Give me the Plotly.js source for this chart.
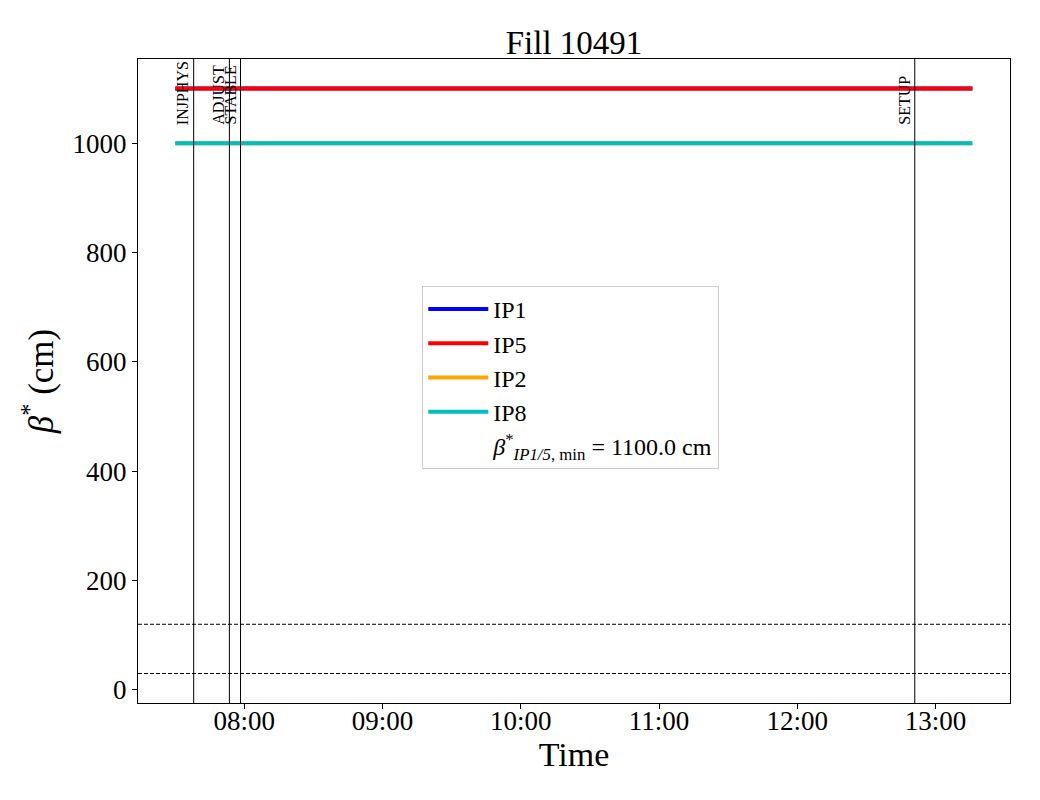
<!DOCTYPE html>
<html>
<head>
<meta charset="utf-8">
<script src="https://cdn.plot.ly/plotly-3.0.1.min.js"></script>
<style>html,body{margin:0;padding:0;background:#fff;}#chart{width:1040px;height:800px;}</style>
</head>
<body>
<div id="chart"></div>
<script>
// ---- data ----
const day = '2025-04-28 ';
const seriesNames = ['IP1', 'IP5', 'IP2', 'IP8'];
const seriesTimes = ['07:30:00', '13:16:00'];
const betaIP1 = [1100, 1100];
const betaIP5 = [1100, 1100];
const betaIP2 = [1000, 1000];
const betaIP8 = [1000, 1000];
const modeNames = ['INJPHYS', 'ADJUST', 'STABLE', 'SETUP'];
const modeTimes = ['07:38:00', '07:53:30', '07:58:20', '12:51:00'];
const refLevels = [30, 120];
const betaMin = 1100.0;
const xRange = ['07:13:50', '13:32:20'];
const yTicks = [0, 200, 400, 600, 800, 1000];

// ---- styles ----
const seriesColors = ['#0000ff', '#ff0000', '#ffa500', '#00bfbf'];
const serif = 'Liberation Serif, Times New Roman, serif';

const seriesValues = [betaIP1, betaIP5, betaIP2, betaIP8];
const traces = seriesNames.map((n, i) => ({
  type: 'scatter', mode: 'lines', name: n,
  x: seriesTimes.map(t => day + t), y: seriesValues[i],
  line: {color: seriesColors[i], width: 4},
  legendgroup: 'g' + i
}));
traces.push({
  type: 'scatter', mode: 'lines', x: [null], y: [null],
  name: '<i>β</i><sup>*</sup><sub><i>IP1/5</i>, min</sub> = ' + betaMin.toFixed(1) + ' cm',
  line: {color: 'rgba(0,0,0,0)', width: 0}, legendgroup: 'g4', showlegend: true
});

const shapes = [];
modeTimes.forEach(t => shapes.push({
  type: 'line', xref: 'x', yref: 'paper', x0: day + t, x1: day + t, y0: 0, y1: 1,
  line: {color: 'black', width: 1}
}));
refLevels.forEach(v => shapes.push({
  type: 'line', xref: 'paper', yref: 'y', x0: 0, x1: 1, y0: v, y1: v,
  line: {color: 'black', width: 1, dash: '4px,2px'}
}));

const annotations = modeNames.map((n, i) => ({
  xref: 'x', yref: 'paper', x: day + modeTimes[i], y: 0.896,
  text: n, showarrow: false, textangle: -90,
  xanchor: 'right', yanchor: 'bottom', xshift: -1, borderpad: 0,
  font: {family: serif, size: 16, color: 'black'}
}));

const layout = {
  width: 1040, height: 800,
  paper_bgcolor: 'white', plot_bgcolor: 'white',
  margin: {l: 138, r: 30, t: 59, b: 97},
  font: {family: serif, color: 'black'},
  title: {text: 'Fill 10491', font: {family: serif, size: 33, color: 'black'},
          x: 0.5, xref: 'paper', xanchor: 'center', y: 1 - 42 / 800, yref: 'container', yanchor: 'middle'},
  xaxis: {
    type: 'date', range: xRange.map(t => day + t),
    tickformat: '%H:%M', dtick: 3600000, tick0: day + '08:00:00',
    showgrid: false, zeroline: false,
    showline: true, mirror: true, linecolor: 'black', linewidth: 1,
    ticks: 'outside', ticklen: 5, tickwidth: 1, tickcolor: 'black',
    ticklabelstandoff: -11,
    tickfont: {family: serif, size: 27, color: 'black'},
    title: {text: 'Time', font: {family: serif, size: 34, color: 'black'}, standoff: 0}
  },
  yaxis: {
    range: [-24, 1154], tickvals: yTicks,
    showgrid: false, zeroline: false,
    showline: true, mirror: true, linecolor: 'black', linewidth: 1,
    ticks: 'outside', ticklen: 5, tickwidth: 1, tickcolor: 'black',
    tickfont: {family: serif, size: 27, color: 'black'},
    title: {text: '<i>β</i><sup>*</sup> (cm)', font: {family: serif, size: 35, color: 'black'}, standoff: 8}
  },
  showlegend: true,
  legend: {
    x: 0.326, y: 0.6475, xanchor: 'left', yanchor: 'top',
    bgcolor: 'rgba(255,255,255,0.8)', bordercolor: '#cccccc', borderwidth: 1,
    font: {family: serif, size: 24, color: 'black'},
    itemwidth: 60,
    traceorder: 'grouped', tracegroupgap: 0
  },
  shapes: shapes,
  annotations: annotations
};

Plotly.newPlot('chart', traces, layout, {displayModeBar: false, staticPlot: true});
</script>
</body>
</html>
